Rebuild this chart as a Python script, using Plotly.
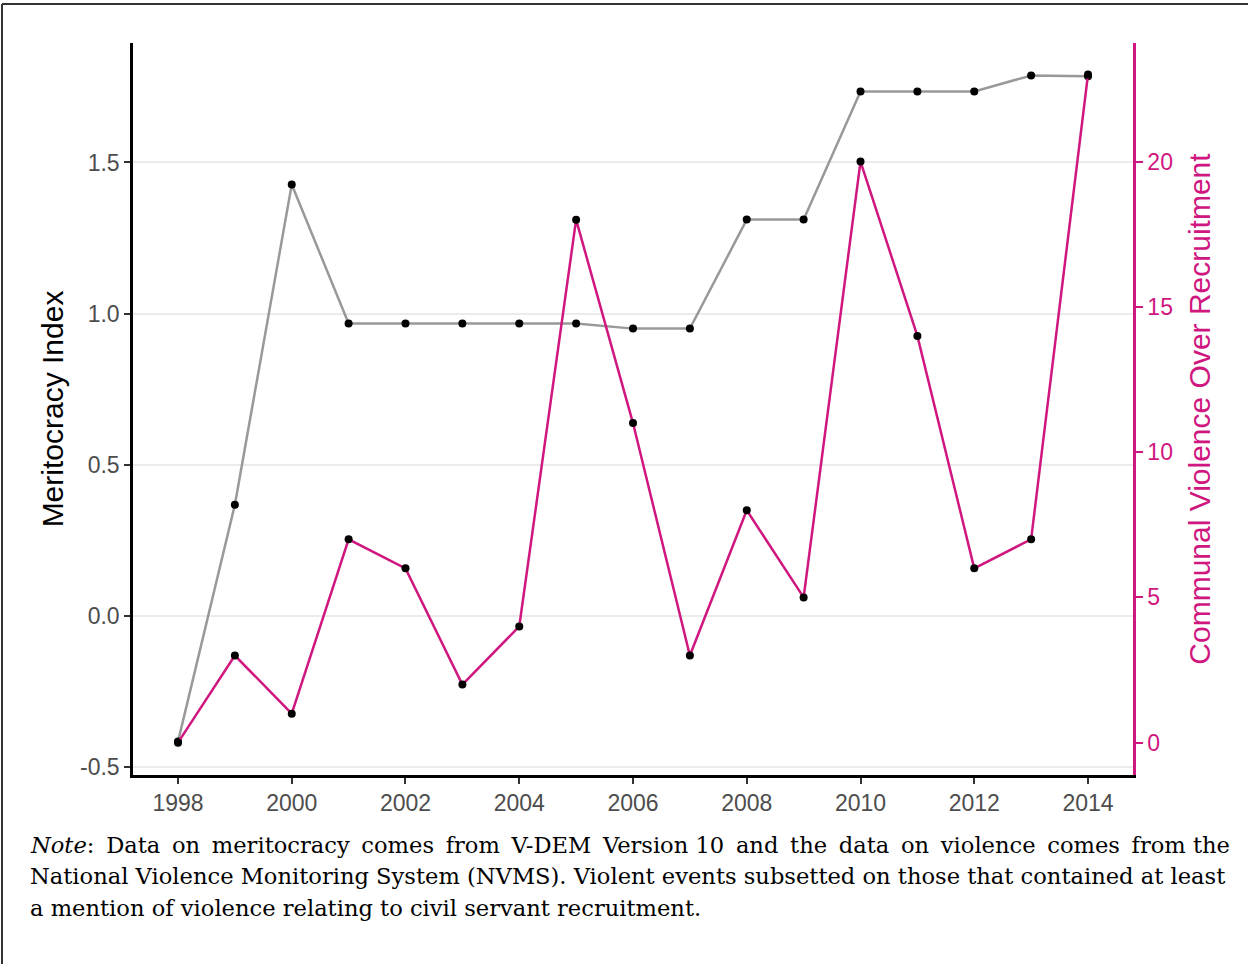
import plotly.graph_objects as go

# Annual series
years = list(range(1998, 2015))
meritocracy = [-0.417, 0.367, 1.427, 0.967, 0.967, 0.967, 0.967, 0.967,
               0.950, 0.950, 1.311, 1.311, 1.735, 1.735, 1.735, 1.788, 1.785]
violence = [0, 3, 1, 7, 6, 2, 4, 18, 11, 3, 8, 5, 20, 14, 6, 7, 23]

x_ticks = list(range(1998, 2015, 2))
left_ticks = [-0.5, 0.0, 0.5, 1.0, 1.5]
left_tick_text = ["-0.5", "0.0", "0.5", "1.0", "1.5"]
right_ticks = [0, 5, 10, 15, 20]

# First note line gets slightly wider word gaps so it fills the full text width
_words = ["<i>Note</i>:", "Data", "on", "meritocracy", "comes", "from", "V-DEM",
          "Version", "10", "and", "the", "data", "on", "violence", "comes",
          "from", "the"]
_gaps = [" \u2009"] * 7 + [" "] + [" \u2009"] * 7 + [" "]
note_line_1 = _words[0] + "".join(g + w for g, w in zip(_gaps, _words[1:]))
note_lines = [
    note_line_1,
    "National Violence Monitoring System (NVMS). Violent events subsetted on those that contained at least",
    "a mention of violence relating to civil servant recruitment.",
]

PINK = "#D0167F"
GREY_LINE = "#999999"
W, H = 1248, 964
L, R, T, B = 133, 115, 43, 189


def px_x(px):
    return (px - L) / (W - L - R)


def px_y(py):
    return (H - B - py) / (H - T - B)


fig = go.Figure()

fig.add_trace(go.Scatter(
    x=years, y=meritocracy, mode="lines",
    line=dict(color=GREY_LINE, width=2.5), hoverinfo="skip", showlegend=False,
))
fig.add_trace(go.Scatter(
    x=years, y=meritocracy, mode="markers",
    marker=dict(color="black", size=8), showlegend=False,
))
fig.add_trace(go.Scatter(
    x=years, y=violence, mode="lines+markers", yaxis="y2",
    line=dict(color=PINK, width=2.5),
    marker=dict(color="black", size=8), showlegend=False,
))

fig.update_layout(
    width=W, height=H,
    margin=dict(l=L, r=R, t=T, b=B),
    paper_bgcolor="white", plot_bgcolor="white",
    font=dict(family="Liberation Sans, Arial, sans-serif", color="#4D4D4D"),
    xaxis=dict(
        range=[1997.209, 2014.791], tickvals=x_ticks,
        ticks="outside", ticklen=6, tickwidth=2, tickcolor="#333333",
        tickfont=dict(size=23, color="#4D4D4D"),
        showline=True, linecolor="black", linewidth=2.5,
        showgrid=False, zeroline=False,
    ),
    yaxis=dict(
        range=[-0.5275, 1.8954], tickvals=left_ticks, ticktext=left_tick_text,
        ticks="outside", ticklen=6, tickwidth=2, tickcolor="#333333",
        tickfont=dict(size=23, color="#4D4D4D"),
        showline=True, linecolor="black", linewidth=2.5,
        showgrid=True, gridcolor="#EBEBEB", gridwidth=2, zeroline=False,
        title=dict(text="Meritocracy Index", font=dict(size=30, color="black"), standoff=8),
    ),
    yaxis2=dict(
        overlaying="y", side="right",
        range=[-1.112, 24.08], tickvals=right_ticks,
        ticks="outside", ticklen=7, tickwidth=2, tickcolor=PINK,
        tickfont=dict(size=23, color=PINK),
        showline=True, linecolor=PINK, linewidth=2.5,
        showgrid=False, zeroline=False,
        title=dict(text="Communal Violence Over Recruitment", font=dict(size=30, color=PINK), standoff=18),
    ),
)

for i, line in enumerate(note_lines):
    fig.add_annotation(
        text=line, xref="paper", yref="paper",
        x=px_x(28), y=px_y(845 + 31.5 * i),
        xanchor="left", yanchor="middle", showarrow=False,
        font=dict(family="DejaVu Serif, serif", size=22.6, color="black"),
    )

# Outer frame (left and top edges)
fig.add_shape(type="line", xref="paper", yref="paper",
              x0=px_x(2), y0=px_y(4), x1=px_x(2), y1=px_y(H),
              line=dict(color="#333333", width=2))
fig.add_shape(type="line", xref="paper", yref="paper",
              x0=px_x(2), y0=px_y(4), x1=px_x(W), y1=px_y(4),
              line=dict(color="#333333", width=2))

fig.write_html("out.html")
